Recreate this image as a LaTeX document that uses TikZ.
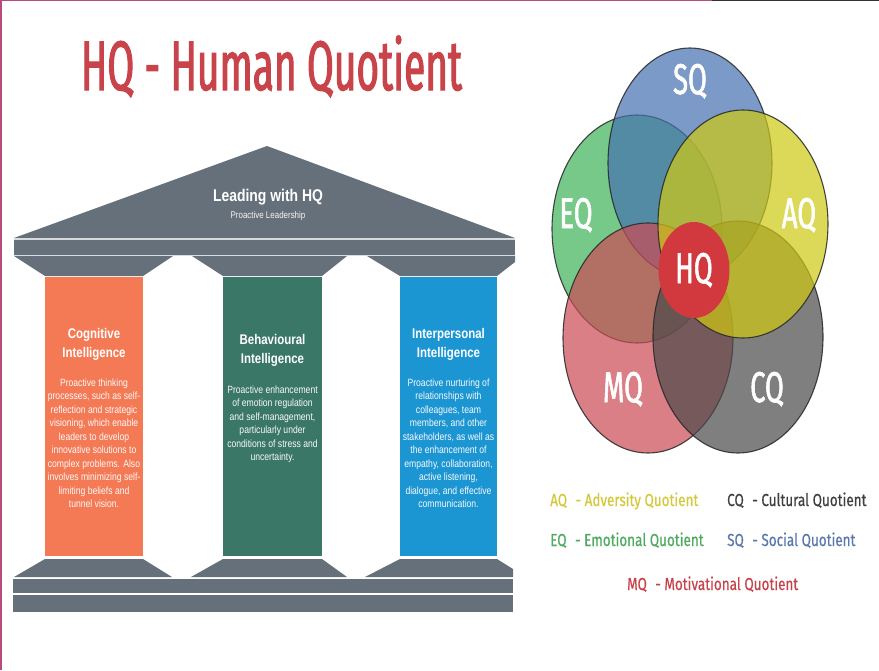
\documentclass[tikz,border=0pt]{standalone}
\usepackage{fontspec}
\usetikzlibrary{shapes.geometric}
\newfontfamily\titlefont[FakeStretch=0.555,FakeBold=1.5]{Fira Sans}
\newfontfamily\vennfont[FakeStretch=0.635,FakeBold=1.3]{Fira Sans}
\newfontfamily\legfont[FakeStretch=0.775,FakeBold=0.4]{Fira Sans}
\newfontfamily\colfont[FakeStretch=0.82]{Liberation Sans}
\definecolor{stone}{HTML}{66707A}
\definecolor{orangec}{HTML}{F47A55}
\definecolor{greenc}{HTML}{3A7767}
\definecolor{bluec}{HTML}{1B96D3}
\definecolor{titlered}{HTML}{C8444A}
\definecolor{eqc}{HTML}{3DB357}
\definecolor{sqc}{HTML}{4570B0}
\definecolor{mqc}{HTML}{CC4A54}
\definecolor{cqc}{HTML}{4A4A4A}
\definecolor{aqc}{HTML}{CFC912}
\definecolor{hqc}{HTML}{D2393E}
\definecolor{legaq}{HTML}{D4C93C}
\definecolor{legcq}{HTML}{3F3F3F}
\definecolor{legeq}{HTML}{4DAA5E}
\definecolor{legsq}{HTML}{5B78AD}
\definecolor{legmq}{HTML}{C8424A}
\definecolor{bordermag}{HTML}{B84A80}
\newcommand{\mlines}[1]{\begin{tabular}[t]{@{}c@{}}#1\end{tabular}}
\begin{document}
\begin{tikzpicture}[x=1pt,y=-1pt,
  venn/.style={ellipse,draw=black!85,draw opacity=0.85,line width=1.1pt,fill opacity=0.7,inner sep=0pt},
  vlabel/.style={anchor=base,text=white,font=\vennfont\fontsize{43}{43}\selectfont,inner sep=0pt},
  leg/.style={anchor=base west,font=\legfont\fontsize{17.4}{18}\selectfont,inner sep=0pt},
  colhead/.style={anchor=base,text=white,inner sep=0pt,font=\colfont\bfseries\fontsize{14}{19}\selectfont},
  colbody/.style={anchor=base,text=white!95!gray,inner sep=0pt,font=\colfont\fontsize{10.5}{13.5}\selectfont},
  hl/.style={white,opacity=0.75,line width=1.2pt}]
\useasboundingbox (0,0) rectangle (879,670);
\fill[white] (0,0) rectangle (879,670);
% frame lines
\draw[bordermag,line width=1.6pt] (0.8,0) -- (0.8,670);
\draw[bordermag,line width=1.4pt] (0,0.7) -- (712,0.7);
\draw[black!80,line width=1.4pt] (712,0.7) -- (879,0.7);
% title
\node[anchor=base,text=titlered,font=\titlefont\fontsize{70}{70}\selectfont,inner sep=0pt] (title) at (271.5,90) {HQ - Human Quotient};
% roof
\fill[stone] (14,238) -- (267,146) -- (515,238) -- cycle;
\fill[stone] (14,238) rectangle (515,256);
\draw[hl] (14,239) -- (515,239);
\draw[hl] (14,255.5) -- (515,255.5);
% top capitals
\fill[stone] (14,256) -- (173,256) -- (143,276) -- (45,276) -- cycle;
\fill[stone] (192,256) -- (347,256) -- (322,276) -- (223,276) -- cycle;
\fill[stone] (367,256) -- (515,256) -- (515,262) -- (497,276) -- (400,276) -- cycle;
% columns
\fill[orangec] (45,277) rectangle (143,556);
\fill[greenc] (223,277) rectangle (322,556);
\fill[bluec] (400,277) rectangle (497,556);
% bottom capitals
\fill[stone] (45,559) -- (143,559) -- (172,577) -- (14,577) -- cycle;
\fill[stone] (223,559) -- (322,559) -- (347,577) -- (191,577) -- cycle;
\fill[stone] (400,559) -- (497,559) -- (513,569) -- (513,577) -- (365,577) -- cycle;
% plinths
\fill[stone] (13,579) rectangle (513,593);
\fill[stone] (13,595) rectangle (513,612);
% roof text
\node[anchor=base,text=white,inner sep=0pt,font=\colfont\bfseries\fontsize{17}{17}\selectfont] (lead) at (268,201) {Leading with HQ};
\node[anchor=base,text=white!92!gray,inner sep=0pt,font=\colfont\fontsize{9.7}{10}\selectfont] (prolead) at (268,218) {Proactive Leadership};
% column texts
\node[colhead] (h1) at (94,338) {\mlines{Cognitive\\Intelligence}};
\node[colbody] (b1) at (94,386) {\mlines{Proactive thinking\\processes, such as self-\\reflection and strategic\\visioning, which enable\\leaders to develop\\innovative solutions to\\complex problems. Also\\involves minimizing self-\\limiting beliefs and\\tunnel vision.}};
\node[colhead] (h2) at (272.5,344) {\mlines{Behavioural\\Intelligence}};
\node[colbody] (b2) at (272.5,393) {\mlines{Proactive enhancement\\of emotion regulation\\and self-management,\\particularly under\\conditions of stress and\\uncertainty.}};
\node[colhead] (h3) at (448.5,338) {\mlines{Interpersonal\\Intelligence}};
\node[colbody] (b3) at (448.5,386) {\mlines{Proactive nurturing of\\relationships with\\colleagues, team\\members, and other\\stakeholders, as well as\\the enhancement of\\empathy, collaboration,\\active listening,\\dialogue, and effective\\communication.}};
% venn
\node[venn,fill=eqc,minimum width=170,minimum height=228] (eq) at (637,229) {};
\node[venn,fill=sqc,minimum width=164,minimum height=230] (sq) at (690,163) {};
\node[venn,fill=mqc,minimum width=170,minimum height=230] (mq) at (648,338) {};
\node[venn,fill=cqc,minimum width=170,minimum height=232] (cq) at (738,337) {};
\node[venn,fill=aqc,minimum width=170,minimum height=228] (aq) at (743,224) {};
\node[ellipse,fill=hqc,minimum width=71,minimum height=96,inner sep=0pt] (hq) at (694,270) {};
\node[vlabel] (sqt) at (690,94) {SQ};
\node[vlabel] (eqt) at (576,228) {EQ};
\node[vlabel] (aqt) at (799,228) {AQ};
\node[vlabel] (hqt) at (694,283) {HQ};
\node[vlabel] (mqt) at (623,402) {MQ};
\node[vlabel] (cqt) at (767,402) {CQ};
% legend
\node[leg,text=legaq] (la) at (550,506) {AQ\hspace{5pt} - Adversity Quotient};
\node[leg,text=legcq] (lc) at (727,506) {CQ\hspace{5pt} - Cultural Quotient};
\node[leg,text=legeq] (le) at (550,546) {EQ\hspace{5pt} - Emotional Quotient};
\node[leg,text=legsq] (ls) at (727,546) {SQ\hspace{5pt} - Social Quotient};
\node[leg,text=legmq] (lm) at (627,590) {MQ\hspace{5pt} - Motivational Quotient};
\end{tikzpicture}
\end{document}
